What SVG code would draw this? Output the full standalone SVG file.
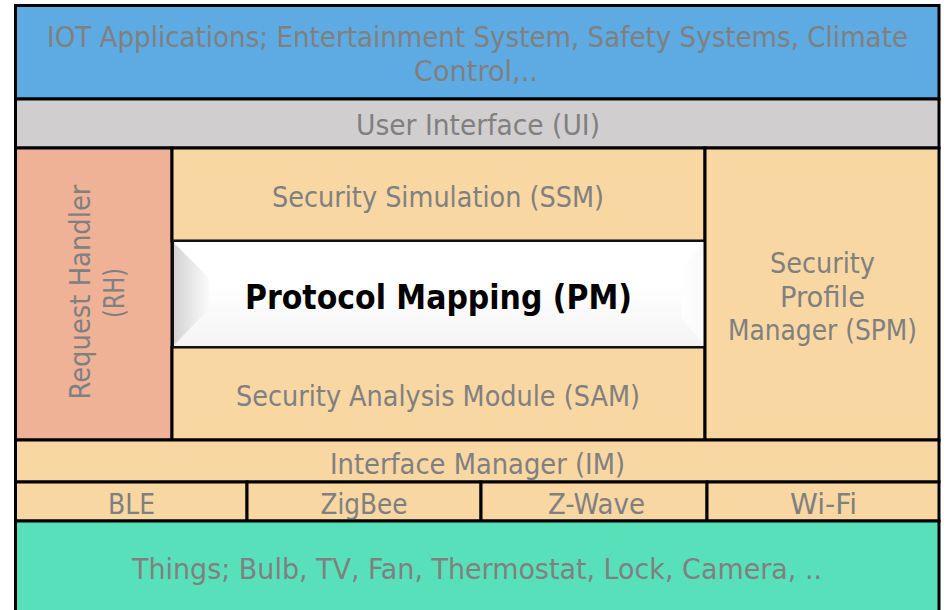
<svg xmlns="http://www.w3.org/2000/svg" width="944" height="610" viewBox="0 0 944 610">
  <style>
    .lbl { font-family: "DejaVu Sans Condensed", "DejaVu Sans", sans-serif; font-size: 29px; fill: #808080; text-anchor: middle; }
    .pm { font-family: "DejaVu Sans Condensed", "DejaVu Sans", sans-serif; font-weight: bold; font-size: 34px; fill: #000; text-anchor: middle; }
    .box { stroke: #000; stroke-width: 3; }
    .thin { stroke: #111; stroke-width: 2; }
  </style>
  <defs>
    <linearGradient id="pmFace" x1="0" y1="0" x2="0" y2="1">
      <stop offset="0" stop-color="#ffffff"/>
      <stop offset="0.4" stop-color="#ffffff"/>
      <stop offset="1" stop-color="#f4f4f4"/>
    </linearGradient>
    <linearGradient id="bevelL" x1="0" y1="0" x2="1" y2="0">
      <stop offset="0" stop-color="#d2d2d2"/>
      <stop offset="1" stop-color="#fbfbfb"/>
    </linearGradient>
    <linearGradient id="bevelR" x1="0" y1="0" x2="1" y2="0">
      <stop offset="0" stop-color="#fefefe"/>
      <stop offset="1" stop-color="#f9f9f9"/>
    </linearGradient>
  </defs>

  <!-- application layer -->
  <g id="apps">
    <rect class="box" x="15.5" y="5.5" width="923.5" height="93.5" fill="#5dabe2"/>
    <text class="lbl" x="477.5" y="47" textLength="861" lengthAdjust="spacingAndGlyphs">IOT Applications; Entertainment System, Safety Systems, Climate</text>
    <text class="lbl" x="476" y="81" textLength="124" lengthAdjust="spacingAndGlyphs">Control,..</text>
  </g>

  <!-- user interface -->
  <g id="ui">
    <rect class="box" x="15.5" y="99" width="923.5" height="49" fill="#d0cecf"/>
    <text class="lbl" x="478" y="135" textLength="244" lengthAdjust="spacingAndGlyphs">User Interface (UI)</text>
  </g>

  <!-- request handler -->
  <g id="rh">
    <rect class="box" x="15.5" y="148" width="156.5" height="292" fill="#f0b297"/>
    <text class="lbl" transform="translate(90,292) rotate(-90)" textLength="215" lengthAdjust="spacingAndGlyphs">Request Handler</text>
    <text class="lbl" transform="translate(124,293) rotate(-90)" textLength="50" lengthAdjust="spacingAndGlyphs">(RH)</text>
  </g>

  <!-- security simulation -->
  <g id="ssm">
    <rect class="box" x="172" y="148" width="533" height="93" fill="#f8d7a3"/>
    <text class="lbl" x="438" y="207" textLength="332" lengthAdjust="spacingAndGlyphs">Security Simulation (SSM)</text>
  </g>

  <!-- security analysis module -->
  <g id="sam">
    <rect class="box" x="172" y="347" width="533" height="93" fill="#f8d7a3"/>
    <text class="lbl" x="438" y="405.5" textLength="404" lengthAdjust="spacingAndGlyphs">Security Analysis Module (SAM)</text>
  </g>

  <!-- protocol mapping -->
  <g id="pm">
    <rect x="173" y="241" width="532" height="106" fill="url(#pmFace)"/>
    <polygon points="173,242 209,278 209,309 173,346" fill="url(#bevelL)"/>
    <polygon points="705,242 682,268 682,318 705,346" fill="url(#bevelR)"/>
    <rect class="thin" x="173" y="241" width="532" height="106" fill="none"/>
    <text class="pm" x="438.5" y="309" textLength="387" lengthAdjust="spacingAndGlyphs">Protocol Mapping (PM)</text>
  </g>

  <!-- security profile manager -->
  <g id="spm">
    <rect class="box" x="705" y="148" width="234" height="292" fill="#f8d7a3"/>
    <text class="lbl" x="822.5" y="273" textLength="105" lengthAdjust="spacingAndGlyphs">Security</text>
    <text class="lbl" x="822.5" y="307" textLength="85" lengthAdjust="spacingAndGlyphs">Profile</text>
    <text class="lbl" x="822.5" y="340" textLength="189" lengthAdjust="spacingAndGlyphs">Manager (SPM)</text>
  </g>

  <!-- interface manager -->
  <g id="im">
    <rect class="box" x="15.5" y="440" width="923.5" height="42" fill="#f8d7a3"/>
    <text class="lbl" x="477.5" y="473.5" textLength="295" lengthAdjust="spacingAndGlyphs">Interface Manager (IM)</text>
  </g>

  <!-- radio protocols -->
  <g id="ble">
    <rect class="box" x="15.5" y="482" width="231.5" height="39" fill="#f8d7a3"/>
    <text class="lbl" x="131.5" y="513.5" textLength="47" lengthAdjust="spacingAndGlyphs">BLE</text>
  </g>
  <g id="zigbee">
    <rect class="box" x="247" y="482" width="234" height="39" fill="#f8d7a3"/>
    <text class="lbl" x="364" y="513.5" textLength="87" lengthAdjust="spacingAndGlyphs">ZigBee</text>
  </g>
  <g id="zwave">
    <rect class="box" x="481" y="482" width="226" height="39" fill="#f8d7a3"/>
    <text class="lbl" x="596.5" y="513.5" textLength="97" lengthAdjust="spacingAndGlyphs">Z-Wave</text>
  </g>
  <g id="wifi">
    <rect class="box" x="707" y="482" width="232" height="39" fill="#f8d7a3"/>
    <text class="lbl" x="823.5" y="513.5" textLength="67" lengthAdjust="spacingAndGlyphs">Wi-Fi</text>
  </g>

  <!-- device layer -->
  <g id="things">
    <rect class="box" x="15.5" y="521" width="923.5" height="95" fill="#58e0bb"/>
    <text class="lbl" x="477" y="578.5" textLength="690" lengthAdjust="spacingAndGlyphs">Things; Bulb, TV, Fan, Thermostat, Lock, Camera, ..</text>
  </g>

  <!-- no connectors between layers -->
  <g id="connectors"/>
</svg>
